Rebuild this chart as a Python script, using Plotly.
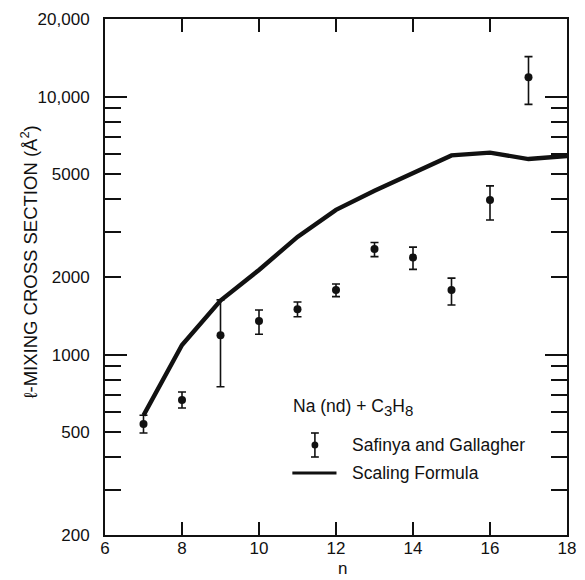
import math
import plotly.graph_objects as go

# ---- data -------------------------------------------------------------
n_meas = [7, 8, 9, 10, 11, 12, 13, 14, 15, 16, 17]
sigma_meas = [538, 667, 1190, 1350, 1500, 1780, 2570, 2380, 1780, 3980, 11900]
sigma_hi = [582, 717, 1630, 1490, 1600, 1880, 2720, 2610, 1980, 4510, 14300]
sigma_lo = [497, 621, 751, 1200, 1403, 1678, 2398, 2141, 1558, 3327, 9337]

n_calc = [7, 8, 9, 10, 11, 12, 13, 14, 15, 16, 17, 18]
sigma_calc = [582, 1090, 1620, 2130, 2860, 3640, 4320, 5050, 5920, 6070, 5730, 5890]

x_ticks = [6, 8, 10, 12, 14, 16, 18]
y_labeled = [200, 500, 1000, 2000, 5000, 10000, 20000]
y_label_text = ["200", "500", "1000", "2000", "5000", "10,000", "20,000"]
y_minor = [300, 400, 600, 700, 800, 900, 3000, 4000, 6000, 7000, 8000, 9000]
y_decades = [1000, 10000]

# ---- geometry ---------------------------------------------------------
W, H = 585, 580
L, R, T, B = 105, 9, 19, 45
PW, PH = W - L - R, H - T - B
FONT = "Liberation Sans, Arial, sans-serif"
INK = "#111111"


def px(xp):
    return (xp - L) / PW


def py(yp):
    return (H - B - yp) / PH


yrange = [math.log10(200), math.log10(20000)]

fig = go.Figure()

fig.add_trace(go.Scatter(
    x=n_calc, y=sigma_calc, mode="lines",
    line=dict(color=INK, width=4.4),
    yaxis="y2", showlegend=False, hoverinfo="skip",
))

fig.add_trace(go.Scatter(
    x=n_meas, y=sigma_meas, mode="markers",
    marker=dict(color=INK, size=8),
    error_y=dict(
        type="data", symmetric=False,
        array=[h - v for h, v in zip(sigma_hi, sigma_meas)],
        arrayminus=[v - l for l, v in zip(sigma_lo, sigma_meas)],
        color=INK, thickness=1.6, width=4,
    ),
    showlegend=False, hoverinfo="skip",
))

fig.update_layout(
    width=W, height=H,
    margin=dict(l=L, r=R, t=T, b=B),
    paper_bgcolor="white", plot_bgcolor="white",
    font=dict(family=FONT, size=17, color=INK),
    xaxis=dict(
        range=[6, 18], tickvals=x_ticks, ticktext=[str(v) for v in x_ticks],
        ticks="inside", ticklen=13, tickwidth=1.5, tickcolor=INK,
        showline=True, linewidth=2, linecolor=INK, mirror="ticks",
        showgrid=False, zeroline=False, ticklabelstandoff=-3,
    ),
    yaxis=dict(
        type="log", range=yrange, tickvals=y_labeled, ticktext=y_label_text,
        ticks="inside", ticklen=16, tickwidth=1.5, tickcolor=INK,
        minor=dict(tickvals=y_minor, ticks="inside", ticklen=16,
                   tickwidth=1.5, tickcolor=INK, showgrid=False),
        showline=True, linewidth=2, linecolor=INK, mirror="ticks",
        showgrid=False, zeroline=False, ticklabelstandoff=10,
    ),
    yaxis2=dict(
        type="log", range=yrange, overlaying="y", anchor="x", side="left",
        tickvals=y_decades, ticks="inside", ticklen=22, tickwidth=1.5,
        tickcolor=INK, showticklabels=False, showline=False, mirror="ticks",
        showgrid=False, zeroline=False,
    ),
)

# axis titles
fig.add_annotation(
    text="\u2113-MIXING CROSS SECTION (\u00c5<sup>2</sup>)",
    xref="paper", yref="paper", x=px(28), y=py(262),
    textangle=-90, showarrow=False, font=dict(size=18.5),
    xanchor="center", yanchor="middle",
)
fig.add_annotation(
    text="n", xref="paper", yref="paper", x=px(347), y=py(568),
    showarrow=False, font=dict(size=17), xanchor="center", yanchor="middle",
)

# key
fig.add_annotation(
    text="Na (nd) + C<sub><span style='font-size:15px'>3</span></sub>"
         "H<sub><span style='font-size:15px'>8</span></sub>",
    xref="paper", yref="paper",
    x=px(295), y=py(407), showarrow=False, font=dict(size=17.5),
    xanchor="left", yanchor="middle",
)
fig.add_annotation(
    text="Safinya and Gallagher", xref="paper", yref="paper",
    x=px(355), y=py(445), showarrow=False, font=dict(size=17.5),
    xanchor="left", yanchor="middle",
)
fig.add_annotation(
    text="Scaling Formula", xref="paper", yref="paper",
    x=px(355), y=py(473), showarrow=False, font=dict(size=17.5),
    xanchor="left", yanchor="middle",
)

key_shapes = [
    # error-bar glyph
    dict(type="line", x0=px(319), x1=px(319), y0=py(433), y1=py(457),
         line=dict(color=INK, width=1.6)),
    dict(type="line", x0=px(315), x1=px(323), y0=py(433), y1=py(433),
         line=dict(color=INK, width=1.6)),
    dict(type="line", x0=px(315), x1=px(323), y0=py(457), y1=py(457),
         line=dict(color=INK, width=1.6)),
    dict(type="circle", x0=px(315.5), x1=px(322.5), y0=py(441.5), y1=py(448.5),
         fillcolor=INK, line=dict(color=INK, width=0)),
    # line glyph
    dict(type="line", x0=px(296), x1=px(341), y0=py(473), y1=py(473),
         line=dict(color=INK, width=3)),
]
for s in key_shapes:
    fig.add_shape(xref="paper", yref="paper", **s)

fig.write_html("out.html")
